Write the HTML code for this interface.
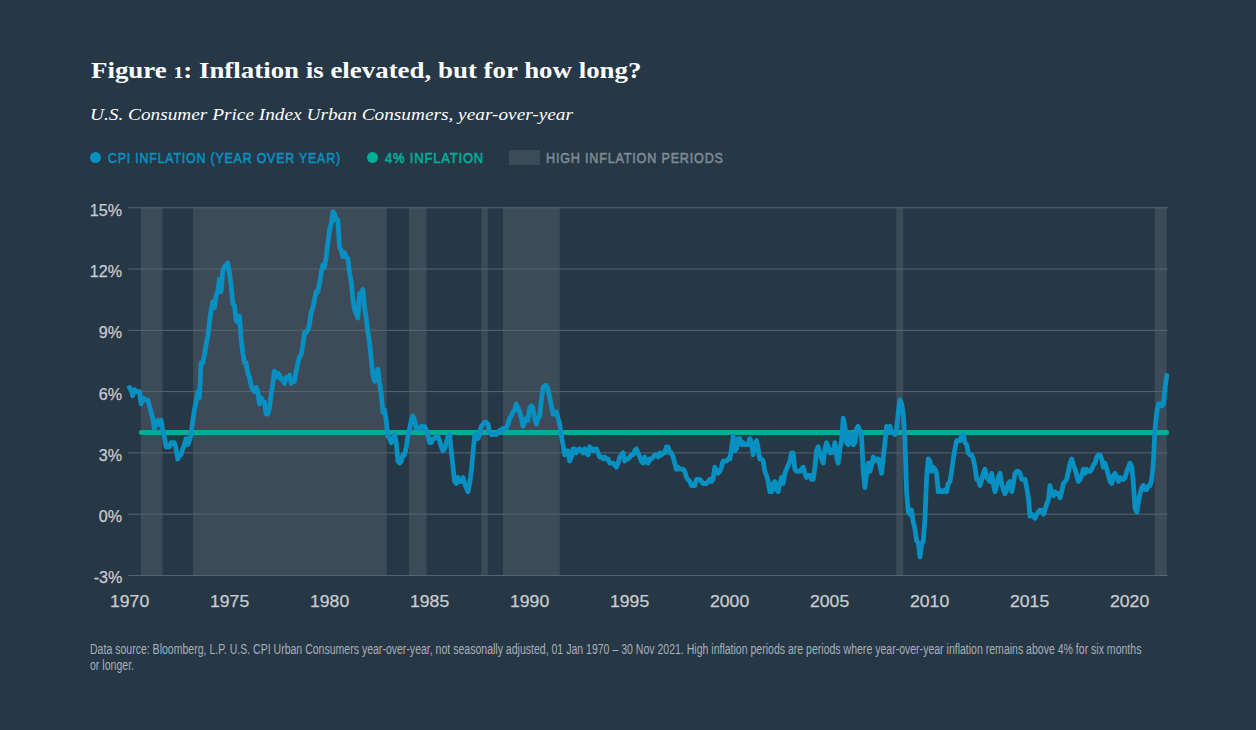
<!DOCTYPE html>
<html><head><meta charset="utf-8"><title>Figure 1</title>
<style>
html,body{margin:0;padding:0;}
body{width:1256px;height:730px;background:#263746;position:relative;overflow:hidden;font-family:"Liberation Sans",sans-serif;}
.tx{position:absolute;white-space:nowrap;line-height:normal;transform-origin:0 0;}
.dot{position:absolute;top:152.2px;width:10.8px;height:10.8px;border-radius:50%;}
</style></head><body>
<svg width="1256" height="730" viewBox="0 0 1256 730" style="position:absolute;left:0;top:0">
<rect x="141.0" y="207.4" width="21.5" height="367.6" fill="#3d4b58"/>
<rect x="193.1" y="207.4" width="193.6" height="367.6" fill="#3d4b58"/>
<rect x="409.0" y="207.4" width="17.5" height="367.6" fill="#3d4b58"/>
<rect x="481.5" y="207.4" width="6.3" height="367.6" fill="#3d4b58"/>
<rect x="503.0" y="207.4" width="56.8" height="367.6" fill="#3d4b58"/>
<rect x="896.3" y="207.4" width="6.9" height="367.6" fill="#3d4b58"/>
<rect x="1154.8" y="207.4" width="11.9" height="367.6" fill="#3d4b58"/>
<rect x="128.2" y="207.25" width="1039.6" height="1" fill="#586670"/>
<rect x="128.2" y="268.53" width="1039.6" height="1" fill="#586670"/>
<rect x="128.2" y="329.82" width="1039.6" height="1" fill="#586670"/>
<rect x="128.2" y="391.10" width="1039.6" height="1" fill="#586670"/>
<rect x="128.2" y="452.38" width="1039.6" height="1" fill="#586670"/>
<rect x="128.2" y="513.67" width="1039.6" height="1" fill="#586670"/>
<rect x="128.2" y="574.95" width="1039.6" height="1" fill="#586670"/>
<line x1="141.3" y1="432.5" x2="1166.6" y2="432.5" stroke="#00ae98" stroke-width="5" stroke-linecap="round"/>
<path d="M129.4 387.5 L131.1 389.6 L132.7 395.7 L134.4 389.6 L136.1 391.6 L137.7 391.6 L139.4 391.6 L141.1 403.9 L142.7 397.7 L144.4 399.8 L146.1 399.8 L147.7 399.8 L149.4 405.9 L151.1 412.0 L152.7 418.2 L154.4 428.4 L156.1 424.3 L157.8 420.2 L159.4 424.3 L161.1 420.2 L162.8 430.4 L164.4 436.5 L166.1 446.8 L167.8 446.8 L169.4 446.8 L171.1 442.7 L172.8 442.7 L174.4 442.7 L176.1 448.8 L177.8 459.0 L179.4 454.9 L181.1 454.9 L182.8 448.8 L184.4 444.7 L186.1 438.6 L187.8 444.7 L189.4 440.6 L191.1 434.5 L192.8 420.2 L194.4 410.0 L196.1 401.8 L197.8 391.6 L199.4 397.7 L201.1 363.0 L202.8 363.0 L204.5 354.8 L206.1 344.6 L207.8 336.4 L209.5 322.1 L211.1 309.9 L212.8 301.7 L214.5 307.8 L216.1 295.6 L217.8 291.5 L219.5 279.2 L221.1 291.5 L222.8 271.1 L224.5 267.0 L226.1 264.9 L227.8 262.9 L229.5 273.1 L231.1 285.4 L232.8 303.8 L234.5 305.8 L236.1 320.1 L237.8 322.1 L239.5 316.0 L241.1 338.5 L242.8 352.8 L244.5 363.0 L246.1 363.0 L247.8 373.2 L249.5 377.3 L251.2 385.5 L252.8 389.6 L254.5 391.6 L256.2 387.5 L257.8 391.6 L259.5 403.9 L261.2 397.7 L262.8 401.8 L264.5 401.8 L266.2 414.1 L267.8 414.1 L269.5 407.9 L271.2 393.6 L272.8 383.4 L274.5 371.2 L276.2 377.3 L277.8 373.2 L279.5 375.3 L281.2 379.3 L282.8 379.3 L284.5 383.4 L286.2 377.3 L287.8 377.3 L289.5 375.3 L291.2 383.4 L292.8 379.3 L294.5 381.4 L296.2 371.2 L297.9 363.0 L299.5 356.9 L301.2 354.8 L302.9 344.6 L304.5 332.4 L306.2 332.4 L307.9 330.3 L309.5 324.2 L311.2 311.9 L312.9 307.8 L314.5 299.7 L316.2 291.5 L317.9 291.5 L319.5 283.3 L321.2 273.1 L322.9 264.9 L324.5 267.0 L326.2 256.8 L327.9 242.5 L329.5 230.2 L331.2 224.1 L332.9 211.8 L334.5 213.9 L336.2 220.0 L337.9 220.0 L339.5 246.6 L341.2 250.6 L342.9 256.8 L344.6 252.7 L346.2 256.8 L347.9 258.8 L349.6 273.1 L351.2 281.3 L352.9 299.7 L354.6 309.9 L356.2 314.0 L357.9 318.1 L359.6 293.5 L361.2 293.5 L362.9 289.5 L364.6 307.8 L366.2 318.1 L367.9 332.4 L369.6 342.6 L371.2 358.9 L372.9 375.3 L374.6 381.4 L376.2 377.3 L377.9 369.1 L379.6 383.4 L381.2 393.6 L382.9 412.0 L384.6 410.0 L386.2 420.2 L387.9 436.5 L389.6 438.6 L391.2 442.7 L392.9 440.6 L394.6 434.5 L396.3 442.7 L397.9 461.1 L399.6 463.1 L401.3 461.1 L402.9 454.9 L404.6 454.9 L406.3 446.8 L407.9 436.5 L409.6 428.4 L411.3 420.2 L412.9 416.1 L414.6 420.2 L416.3 428.4 L417.9 428.4 L419.6 428.4 L421.3 426.3 L422.9 426.3 L424.6 426.3 L426.3 430.4 L427.9 434.5 L429.6 442.7 L431.3 442.7 L432.9 438.6 L434.6 438.6 L436.3 436.5 L437.9 436.5 L439.6 440.6 L441.3 446.8 L443.0 450.8 L444.6 448.8 L446.3 442.7 L448.0 436.5 L449.6 434.5 L451.3 450.8 L453.0 467.2 L454.6 481.5 L456.3 483.5 L458.0 477.4 L459.6 481.5 L461.3 481.5 L463.0 477.4 L464.6 483.5 L466.3 487.6 L468.0 491.7 L469.6 483.5 L471.3 471.3 L473.0 452.9 L474.6 436.5 L476.3 434.5 L478.0 438.6 L479.6 434.5 L481.3 426.3 L483.0 424.3 L484.6 422.2 L486.3 422.2 L488.0 424.3 L489.7 432.5 L491.3 434.5 L493.0 434.5 L494.7 434.5 L496.3 434.5 L498.0 432.5 L499.7 430.4 L501.3 432.5 L503.0 428.4 L504.7 428.4 L506.3 428.4 L508.0 424.3 L509.7 418.2 L511.3 416.1 L513.0 412.0 L514.7 410.0 L516.3 403.9 L518.0 407.9 L519.7 412.0 L521.3 418.2 L523.0 426.3 L524.7 422.2 L526.3 418.2 L528.0 420.2 L529.7 407.9 L531.3 405.9 L533.0 407.9 L534.7 418.2 L536.4 424.3 L538.0 418.2 L539.7 416.1 L541.4 399.8 L543.0 387.5 L544.7 385.5 L546.4 385.5 L548.0 389.6 L549.7 397.7 L551.4 405.9 L553.0 414.1 L554.7 414.1 L556.4 412.0 L558.0 418.2 L559.7 424.3 L561.4 436.5 L563.0 444.7 L564.7 454.9 L566.4 452.9 L568.0 450.8 L569.7 461.1 L571.4 457.0 L573.0 448.8 L574.7 448.8 L576.4 452.9 L578.0 450.8 L579.7 448.8 L581.4 450.8 L583.1 452.9 L584.7 448.8 L586.4 452.9 L588.1 454.9 L589.7 446.8 L591.4 448.8 L593.1 450.8 L594.7 448.8 L596.4 448.8 L598.1 452.9 L599.7 457.0 L601.4 457.0 L603.1 459.0 L604.7 457.0 L606.4 459.0 L608.1 459.0 L609.7 463.1 L611.4 463.1 L613.1 463.1 L614.7 465.1 L616.4 467.2 L618.1 463.1 L619.7 457.0 L621.4 454.9 L623.1 452.9 L624.7 461.1 L626.4 459.0 L628.1 459.0 L629.8 457.0 L631.4 454.9 L633.1 454.9 L634.8 450.8 L636.4 448.8 L638.1 452.9 L639.8 457.0 L641.4 461.1 L643.1 463.1 L644.8 457.0 L646.4 461.1 L648.1 463.1 L649.8 459.0 L651.4 459.0 L653.1 457.0 L654.8 454.9 L656.4 454.9 L658.1 457.0 L659.8 452.9 L661.4 454.9 L663.1 452.9 L664.8 452.9 L666.4 446.8 L668.1 446.8 L669.8 452.9 L671.4 452.9 L673.1 457.0 L674.8 463.1 L676.4 469.2 L678.1 467.2 L679.8 469.2 L681.5 469.2 L683.1 469.2 L684.8 471.3 L686.5 477.4 L688.1 479.4 L689.8 481.5 L691.5 485.6 L693.1 485.6 L694.8 485.6 L696.5 479.4 L698.1 479.4 L699.8 479.4 L701.5 481.5 L703.1 483.5 L704.8 483.5 L706.5 483.5 L708.1 481.5 L709.8 479.4 L711.5 481.5 L713.1 479.4 L714.8 467.2 L716.5 471.3 L718.1 473.3 L719.8 471.3 L721.5 467.2 L723.1 461.1 L724.8 461.1 L726.5 461.1 L728.2 459.0 L729.8 459.0 L731.5 448.8 L733.2 436.5 L734.8 450.8 L736.5 448.8 L738.2 438.6 L739.8 438.6 L741.5 444.7 L743.2 442.7 L744.8 444.7 L746.5 444.7 L748.2 444.7 L749.8 438.6 L751.5 442.7 L753.2 454.9 L754.8 446.8 L756.5 440.6 L758.2 448.8 L759.8 459.0 L761.5 459.0 L763.2 461.1 L764.8 471.3 L766.5 475.4 L768.2 481.5 L769.8 491.7 L771.5 491.7 L773.2 483.5 L774.9 481.5 L776.5 489.7 L778.2 491.7 L779.9 483.5 L781.5 477.4 L783.2 483.5 L784.9 473.3 L786.5 469.2 L788.2 465.1 L789.9 461.1 L791.5 452.9 L793.2 452.9 L794.9 469.2 L796.5 471.3 L798.2 471.3 L799.9 471.3 L801.5 469.2 L803.2 467.2 L804.9 473.3 L806.5 477.4 L808.2 475.4 L809.9 475.4 L811.5 479.4 L813.2 479.4 L814.9 467.2 L816.5 450.8 L818.2 446.8 L819.9 452.9 L821.6 459.0 L823.2 463.1 L824.9 448.8 L826.6 442.7 L828.2 446.8 L829.9 452.9 L831.6 452.9 L833.2 450.8 L834.9 442.7 L836.6 457.0 L838.2 463.1 L839.9 448.8 L841.6 440.6 L843.2 418.2 L844.9 426.3 L846.6 442.7 L848.2 444.7 L849.9 432.5 L851.6 440.6 L853.2 444.7 L854.9 442.7 L856.6 428.4 L858.2 426.3 L859.9 430.4 L861.6 436.5 L863.2 471.3 L864.9 487.6 L866.6 473.3 L868.3 463.1 L869.9 471.3 L871.6 465.1 L873.3 457.0 L874.9 461.1 L876.6 459.0 L878.3 459.0 L879.9 465.1 L881.6 473.3 L883.3 457.0 L884.9 442.7 L886.6 426.3 L888.3 430.4 L889.9 426.3 L891.6 432.5 L893.3 432.5 L894.9 434.5 L896.6 428.4 L898.3 412.0 L899.9 399.8 L901.6 403.9 L903.3 414.1 L904.9 438.6 L906.6 491.7 L908.3 512.1 L909.9 514.2 L911.6 510.1 L913.3 522.3 L914.9 528.5 L916.6 540.7 L918.3 542.8 L920.0 557.1 L921.6 544.8 L923.3 540.7 L925.0 518.3 L926.6 477.4 L928.3 459.0 L930.0 461.1 L931.6 471.3 L933.3 467.2 L935.0 469.2 L936.6 473.3 L938.3 491.7 L940.0 489.7 L941.6 491.7 L943.3 491.7 L945.0 489.7 L946.6 491.7 L948.3 483.5 L950.0 481.5 L951.6 471.3 L953.3 459.0 L955.0 448.8 L956.6 440.6 L958.3 440.6 L960.0 440.6 L961.6 436.5 L963.3 434.5 L965.0 442.7 L966.7 444.7 L968.3 452.9 L970.0 454.9 L971.7 454.9 L973.3 459.0 L975.0 467.2 L976.7 479.4 L978.3 479.4 L980.0 485.6 L981.7 479.4 L983.3 473.3 L985.0 469.2 L986.7 477.4 L988.3 479.4 L990.0 481.5 L991.7 473.3 L993.3 483.5 L995.0 491.7 L996.7 485.6 L998.3 477.4 L1000.0 473.3 L1001.7 483.5 L1003.3 489.7 L1005.0 493.7 L1006.7 489.7 L1008.3 483.5 L1010.0 481.5 L1011.7 491.7 L1013.4 483.5 L1015.0 473.3 L1016.7 471.3 L1018.4 471.3 L1020.0 473.3 L1021.7 479.4 L1023.4 479.4 L1025.0 479.4 L1026.7 487.6 L1028.4 497.8 L1030.0 516.2 L1031.7 514.2 L1033.4 516.2 L1035.0 518.3 L1036.7 514.2 L1038.4 512.1 L1040.0 510.1 L1041.7 510.1 L1043.4 514.2 L1045.0 510.1 L1046.7 504.0 L1048.4 499.9 L1050.0 485.6 L1051.7 493.7 L1053.4 495.8 L1055.0 491.7 L1056.7 493.7 L1058.4 493.7 L1060.1 497.8 L1061.7 491.7 L1063.4 483.5 L1065.1 481.5 L1066.7 479.4 L1068.4 471.3 L1070.1 463.1 L1071.7 459.0 L1073.4 465.1 L1075.1 469.2 L1076.7 475.4 L1078.4 481.5 L1080.1 479.4 L1081.7 475.4 L1083.4 469.2 L1085.1 473.3 L1086.7 469.2 L1088.4 471.3 L1090.1 471.3 L1091.7 469.2 L1093.4 465.1 L1095.1 463.1 L1096.7 457.0 L1098.4 454.9 L1100.1 454.9 L1101.7 459.0 L1103.4 467.2 L1105.1 463.1 L1106.8 469.2 L1108.4 475.4 L1110.1 481.5 L1111.8 483.5 L1113.4 475.4 L1115.1 473.3 L1116.8 477.4 L1118.4 481.5 L1120.1 477.4 L1121.8 479.4 L1123.4 479.4 L1125.1 477.4 L1126.8 471.3 L1128.4 467.2 L1130.1 463.1 L1131.8 467.2 L1133.4 483.5 L1135.1 508.0 L1136.8 512.1 L1138.4 501.9 L1140.1 493.7 L1141.8 487.6 L1143.4 485.6 L1145.1 489.7 L1146.8 489.7 L1148.4 485.6 L1150.1 485.6 L1151.8 479.4 L1153.4 461.1 L1155.1 428.4 L1156.8 412.0 L1158.5 403.9 L1160.1 403.9 L1161.8 405.9 L1163.5 403.9 L1165.1 387.5 L1166.8 375.3" fill="none" stroke="#0790c1" stroke-width="4.8" stroke-linejoin="round" stroke-linecap="round"/>
</svg>
<div class="dot" style="left:90.4px;background:#0790c1"></div>
<div class="dot" style="left:366.9px;background:#00ae98"></div>
<div style="position:absolute;left:509px;top:150.3px;width:31px;height:14.5px;background:#3d4b58"></div>
<div id="t1" class="tx" style="left:91.14px;top:57.00px;font-size:23.9px;font-family:'Liberation Serif',serif;font-weight:bold;color:#fff;transform:scaleX(1.1257)">Figure <span style="font-size:0.73em">1</span>: Inflation is elevated, but for how long?</div>
<div id="t2" class="tx" style="left:90.01px;top:104.00px;font-size:17.7px;font-family:'Liberation Serif',serif;font-style:italic;color:#fff;transform:scaleX(1.0907)">U.S. Consumer Price Index Urban Consumers, year-over-year</div>
<div id="l1" class="tx" style="left:107.57px;top:150.00px;font-size:14.2px;letter-spacing:0.9px;-webkit-text-stroke:0.55px #0790c1;color:#0790c1;transform:scaleX(0.8749)">CPI INFLATION (YEAR OVER YEAR)</div>
<div id="l2" class="tx" style="left:385.14px;top:150.00px;font-size:14.2px;letter-spacing:0.9px;-webkit-text-stroke:0.55px #00ae98;color:#00ae98;transform:scaleX(0.9141)">4% INFLATION</div>
<div id="l3" class="tx" style="left:546.20px;top:150.00px;font-size:14.2px;letter-spacing:0.9px;-webkit-text-stroke:0.55px #7f8a94;color:#7f8a94;transform:scaleX(0.8887)">HIGH INFLATION PERIODS</div>
<div id="f1" class="tx" style="left:90.17px;top:641.00px;font-size:14px;color:#a9b0b7;transform:scaleX(0.7520)">Data source: Bloomberg, L.P. U.S. CPI Urban Consumers year-over-year, not seasonally adjusted, 01 Jan 1970 – 30 Nov 2021. High inflation periods are periods where year-over-year inflation remains above 4% for six months</div>
<div id="f2" class="tx" style="left:90.15px;top:657.00px;font-size:14px;color:#a9b0b7;transform:scaleX(0.7536)">or longer.</div>
<div id="y0" class="tx" style="left:89.83px;top:201.00px;font-size:16.1px;-webkit-text-stroke:0.25px #c9ccd0;color:#c9ccd0;transform:scaleX(1.0000)">15%</div>
<div id="y1" class="tx" style="left:89.83px;top:262.00px;font-size:16.1px;-webkit-text-stroke:0.25px #c9ccd0;color:#c9ccd0;transform:scaleX(1.0000)">12%</div>
<div id="y2" class="tx" style="left:98.83px;top:323.00px;font-size:16.1px;-webkit-text-stroke:0.25px #c9ccd0;color:#c9ccd0;transform:scaleX(1.0000)">9%</div>
<div id="y3" class="tx" style="left:98.82px;top:385.00px;font-size:16.1px;-webkit-text-stroke:0.25px #c9ccd0;color:#c9ccd0;transform:scaleX(1.0000)">6%</div>
<div id="y4" class="tx" style="left:98.83px;top:446.00px;font-size:16.1px;-webkit-text-stroke:0.25px #c9ccd0;color:#c9ccd0;transform:scaleX(1.0000)">3%</div>
<div id="y5" class="tx" style="left:98.83px;top:507.00px;font-size:16.1px;-webkit-text-stroke:0.25px #c9ccd0;color:#c9ccd0;transform:scaleX(1.0000)">0%</div>
<div id="y6" class="tx" style="left:93.69px;top:568.00px;font-size:16.1px;-webkit-text-stroke:0.25px #c9ccd0;color:#c9ccd0;transform:scaleX(1.0000)">-3%</div>
<div class="tx" style="left:109.90px;top:592.00px;font-size:16.3px;-webkit-text-stroke:0.25px #c9ccd0;color:#c9ccd0;transform:scaleX(1.083)">1970</div>
<div class="tx" style="left:209.90px;top:592.00px;font-size:16.3px;-webkit-text-stroke:0.25px #c9ccd0;color:#c9ccd0;transform:scaleX(1.083)">1975</div>
<div class="tx" style="left:309.90px;top:592.00px;font-size:16.3px;-webkit-text-stroke:0.25px #c9ccd0;color:#c9ccd0;transform:scaleX(1.083)">1980</div>
<div class="tx" style="left:409.90px;top:592.00px;font-size:16.3px;-webkit-text-stroke:0.25px #c9ccd0;color:#c9ccd0;transform:scaleX(1.083)">1985</div>
<div class="tx" style="left:509.90px;top:592.00px;font-size:16.3px;-webkit-text-stroke:0.25px #c9ccd0;color:#c9ccd0;transform:scaleX(1.083)">1990</div>
<div class="tx" style="left:609.90px;top:592.00px;font-size:16.3px;-webkit-text-stroke:0.25px #c9ccd0;color:#c9ccd0;transform:scaleX(1.083)">1995</div>
<div class="tx" style="left:710.20px;top:592.00px;font-size:16.3px;-webkit-text-stroke:0.25px #c9ccd0;color:#c9ccd0;transform:scaleX(1.083)">2000</div>
<div class="tx" style="left:810.20px;top:592.00px;font-size:16.3px;-webkit-text-stroke:0.25px #c9ccd0;color:#c9ccd0;transform:scaleX(1.083)">2005</div>
<div class="tx" style="left:910.20px;top:592.00px;font-size:16.3px;-webkit-text-stroke:0.25px #c9ccd0;color:#c9ccd0;transform:scaleX(1.083)">2010</div>
<div class="tx" style="left:1010.20px;top:592.00px;font-size:16.3px;-webkit-text-stroke:0.25px #c9ccd0;color:#c9ccd0;transform:scaleX(1.083)">2015</div>
<div class="tx" style="left:1110.20px;top:592.00px;font-size:16.3px;-webkit-text-stroke:0.25px #c9ccd0;color:#c9ccd0;transform:scaleX(1.083)">2020</div>
</body></html>
